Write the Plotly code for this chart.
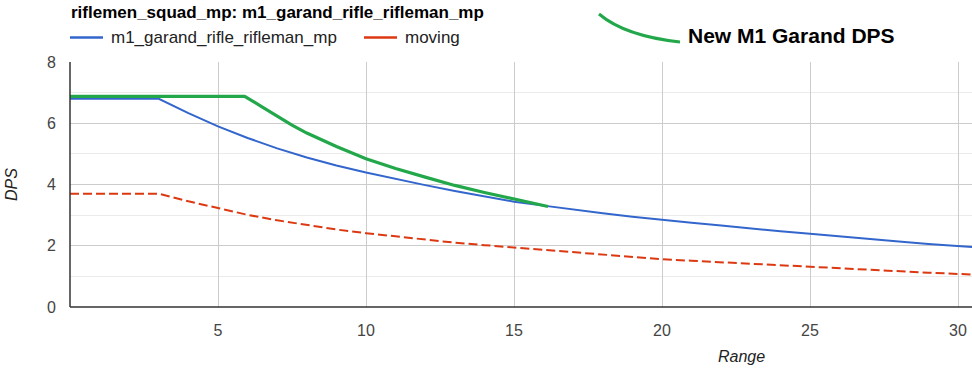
import plotly.graph_objects as go

# Data
range_blue = [0, 3, 4, 5, 6, 7, 8, 9, 10, 11, 12, 13, 14, 15, 16, 17, 18, 19, 20,
              21, 22, 23, 24, 25, 26, 27, 28, 29, 30, 30.5]
dps_blue = [6.80, 6.80, 6.33, 5.90, 5.52, 5.18, 4.88, 4.62, 4.39, 4.18, 3.98, 3.79, 3.61,
            3.44, 3.31, 3.18, 3.06, 2.95, 2.84, 2.75, 2.66, 2.56, 2.47, 2.39, 2.30, 2.22,
            2.14, 2.06, 1.98, 1.96]
dps_moving = [3.70, 3.70, 3.45, 3.22, 3.01, 2.83, 2.67, 2.53, 2.41, 2.30, 2.20, 2.10, 2.02,
              1.94, 1.86, 1.79, 1.72, 1.64, 1.56, 1.51, 1.46, 1.40, 1.35, 1.30, 1.26, 1.21,
              1.17, 1.12, 1.08, 1.06]
range_green = [0, 5.9, 6.5, 7, 7.5, 8, 8.5, 9, 10, 11, 12, 13, 14, 15, 16.15]
dps_green = [6.88, 6.88, 6.53, 6.22, 5.94, 5.68, 5.45, 5.24, 4.84, 4.52, 4.24, 3.97, 3.74,
             3.52, 3.28]

title_text = "riflemen_squad_mp: m1_garand_rifle_rifleman_mp"
annot_text = "New M1 Garand DPS"
series_names = ["m1_garand_rifle_rifleman_mp", "moving"]
series_colors = ["#3366cc", "#dc3912"]
x_ticks = [5, 10, 15, 20, 25, 30]
y_ticks = [0, 2, 4, 6, 8]

W, H = 972, 373
L, R, T, B = 70, 0, 62, 66
FONT = "Arial, Liberation Sans, sans-serif"

fig = go.Figure()
fig.add_trace(go.Scatter(x=range_blue, y=dps_blue, mode="lines", name=series_names[0],
                         line=dict(color=series_colors[0], width=2)))
fig.add_trace(go.Scatter(x=range_blue, y=dps_moving, mode="lines", name=series_names[1],
                         line=dict(color=series_colors[1], width=2, dash="9px,4px")))
fig.add_trace(go.Scatter(x=range_green, y=dps_green, mode="lines", name=annot_text,
                         line=dict(color="#22a84a", width=3.2)))

pw = W - L - R
ph = H - T - B


def px(xp):
    return (xp - L) / pw


def py(yp):
    return (H - B - yp) / ph


# Custom legend (Google-Charts style)
leg = [(70, 103, 110), (364, 397, 404)]
for (x0, x1, xt), name, col in zip(leg, series_names, series_colors):
    fig.add_shape(type="line", xref="paper", yref="paper", x0=px(x0), x1=px(x1),
                  y0=py(37.5), y1=py(37.5), line=dict(color=col, width=2.5))
    fig.add_annotation(text=name, xref="paper", yref="paper", x=px(xt - 1), y=py(37),
                       xanchor="left", yanchor="middle", showarrow=False,
                       font=dict(family=FONT, size=17, color="#222"))

# Hand-drawn green stroke next to the annotation text
fig.add_shape(type="path", xref="paper", yref="paper",
              path=f"M {px(599)} {py(14)} Q {px(625)} {py(36)} {px(680)} {py(42)}",
              line=dict(color="#22a84a", width=3))

fig.add_annotation(text=f"<b>{annot_text}</b>", xref="paper", yref="paper",
                   x=px(686), y=py(35), xanchor="left", yanchor="middle", showarrow=False,
                   font=dict(family=FONT, size=21, color="#000"))

fig.add_annotation(text=f"<b>{title_text}</b>", xref="paper", yref="paper",
                   x=px(69), y=py(12), xanchor="left", yanchor="middle", showarrow=False,
                   font=dict(family=FONT, size=17, color="#000"))

fig.add_annotation(text="<i>Range</i>", xref="paper", yref="paper",
                   x=px(741), y=py(356), xanchor="center", yanchor="middle", showarrow=False,
                   font=dict(family=FONT, size=16, color="#222"))
fig.add_annotation(text="<i>DPS</i>", xref="paper", yref="paper",
                   x=px(11), y=py(185), xanchor="center", yanchor="middle", showarrow=False,
                   textangle=-90,
                   font=dict(family=FONT, size=16, color="#222"))

fig.update_layout(
    width=W, height=H,
    margin=dict(l=L, r=R, t=T, b=B),
    paper_bgcolor="white", plot_bgcolor="white",
    font=dict(family=FONT, size=16, color="#444"),
    showlegend=False,
    xaxis=dict(range=[0, pw / 29.6], tickvals=x_ticks, showgrid=True, gridcolor="#cccccc",
               gridwidth=1, zeroline=False, showline=False, ticks="",
               tickfont=dict(size=16, color="#444"), ticklabelstandoff=12),
    yaxis=dict(range=[0, 8], tickvals=y_ticks, showgrid=True, gridcolor="#cccccc",
               gridwidth=1, zeroline=False, showline=False, ticks="",
               minor=dict(tickvals=[1, 3, 5, 7], showgrid=True, gridcolor="#ebebeb", gridwidth=1),
               tickfont=dict(size=16, color="#444"), ticklabelstandoff=13),
)

# Axis baselines
fig.add_shape(type="line", xref="paper", yref="paper", x0=0, x1=1, y0=0, y1=0,
              line=dict(color="#333333", width=1.5))
fig.add_shape(type="line", xref="paper", yref="paper", x0=0, x1=0, y0=0, y1=1,
              line=dict(color="#333333", width=1.5))

fig.write_html("out.html")
